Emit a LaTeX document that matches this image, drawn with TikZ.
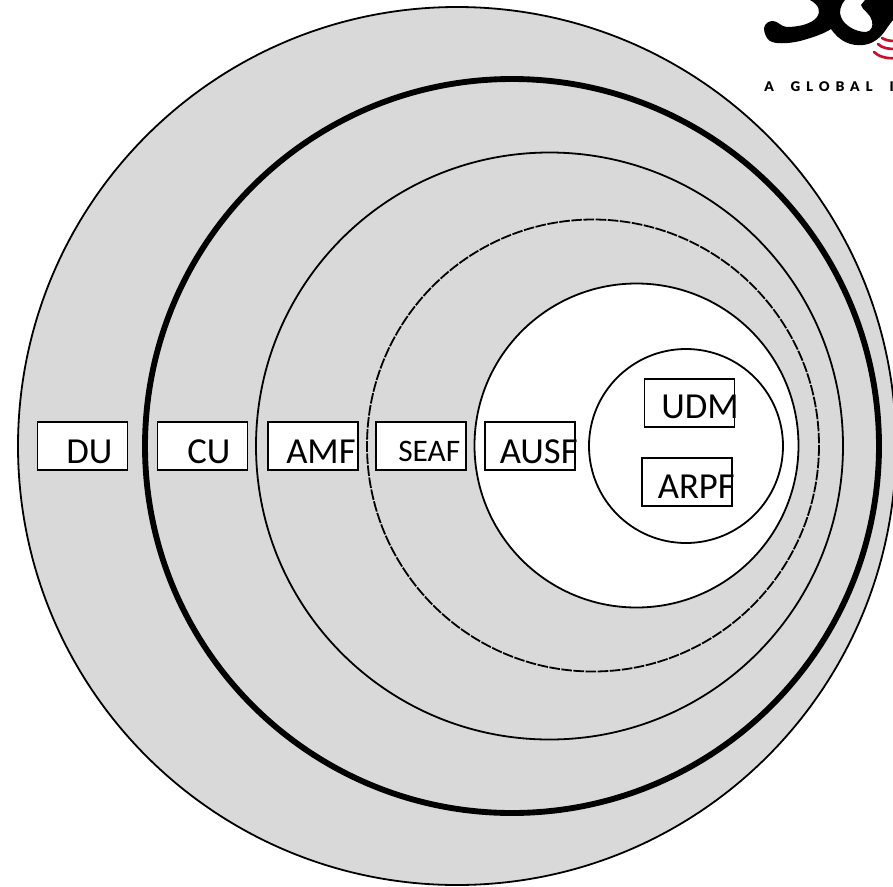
\documentclass[tikz,border=0pt]{standalone}
\usepackage{fontspec}
\setmainfont{Carlito}
\newfontfamily\logofont[LetterSpace=44,WordSpace=1.9]{Lato Black}
\tikzset{
  ring/.style={draw=black,line width=1.35pt},
  greyring/.style={ring,fill=ringgrey},
  whitering/.style={ring,fill=white},
  heavyring/.style={draw=black,line width=4.4pt,fill=ringgrey},
  dashring/.style={draw=black,line width=1.35pt,dash pattern=on 8pt off 1.1pt,fill=ringgrey},
  nfbox/.style={draw=black,line width=1.2pt,fill=white,minimum width=67.5pt,minimum height=36pt,inner sep=0pt},
  nflabel/.style={anchor=base west,inner sep=0pt,font=\fontsize{27.5}{30}\selectfont},
  smalllabel/.style={nflabel,font=\fontsize{23.5}{26}\selectfont},
  logored/.style={draw=logocrimson,line width=2pt,line cap=round}
}
\definecolor{ringgrey}{HTML}{D9D9D9}
\definecolor{logocrimson}{HTML}{C8102E}
\begin{document}
\begin{tikzpicture}[x=0.75pt,y=-0.75pt]
\useasboundingbox (0,0) rectangle (893,886);
\clip (0,0) rectangle (893,886);
\fill[white] (0,0) rectangle (893,886);
% rings
\path[greyring] (457,446) circle[radius=439];
\path[heavyring] (512,446) circle[radius=367];
\path[greyring] (549.5,446) circle[radius=293.5];
\path[dashring] (593,445.5) circle[radius=226];
\path[whitering] (636.5,445.5) circle[radius=162];
\path[whitering] (686,446) circle[radius=97];
% boxes
\node[nfbox] (du) at (82.5,446) {};
\node[nfbox] (cu) at (202.5,446) {};
\node[nfbox] (amf) at (313,446) {};
\node[nfbox] (seaf) at (421,446) {};
\node[nfbox] (ausf) at (530,446) {};
\node[nfbox] (udm) at (689.5,403) {};
\node[nfbox] (arpf) at (687,482) {};
% labels
\node[nflabel] (tdu) at (66,463) {DU};
\node[nflabel] (tcu) at (187,463) {CU};
\node[nflabel] (tamf) at (286,463) {AMF};
\node[smalllabel] (tseaf) at (398,461) {SEAF};
\node[nflabel] (tausf) at (499.5,463) {AUSF};
\node[nflabel] (tudm) at (661,418) {UDM};
\node[nflabel] (tarpf) at (657.5,498) {ARPF};
% logo
\fill[black] (764,28) .. controls (765,23) and (769,21) .. (773,21)
  .. controls (778,21) and (781,27) .. (787,27)
  .. controls (798,27) and (812,24) .. (817,17)
  .. controls (821,11) and (819,5) .. (810,0)
  -- (845,0) .. controls (840,6) and (839,12) .. (841,17)
  .. controls (844,25) and (855,32) .. (866,32)
  .. controls (872,31) and (873,26) .. (872,21)
  .. controls (871,14) and (862,10) .. (861,5)
  -- (865,0) -- (893,0) -- (893,20)
  .. controls (889,25) and (887,28) .. (885,31)
  .. controls (880,38) and (873,44) .. (863,45)
  .. controls (851,46) and (840,42) .. (831,29)
  .. controls (825,33) and (815,37) .. (800,41)
  .. controls (787,44) and (775,44) .. (770,41)
  .. controls (766,38) and (764,33) .. (764,28) -- cycle;
\draw[logored] (882,38) .. controls (885,40) and (889,41) .. (895,41);
\draw[logored] (878,44) .. controls (882,48) and (888,49) .. (895,49);
\draw[logored] (874,52) .. controls (878,56) and (886,59) .. (895,58);
\node[anchor=base west,inner sep=0pt,font=\logofont\fontsize{10}{11}\selectfont,text=black] (slogan) at (764,91) {A GLOBAL I};
\end{tikzpicture}
\end{document}
